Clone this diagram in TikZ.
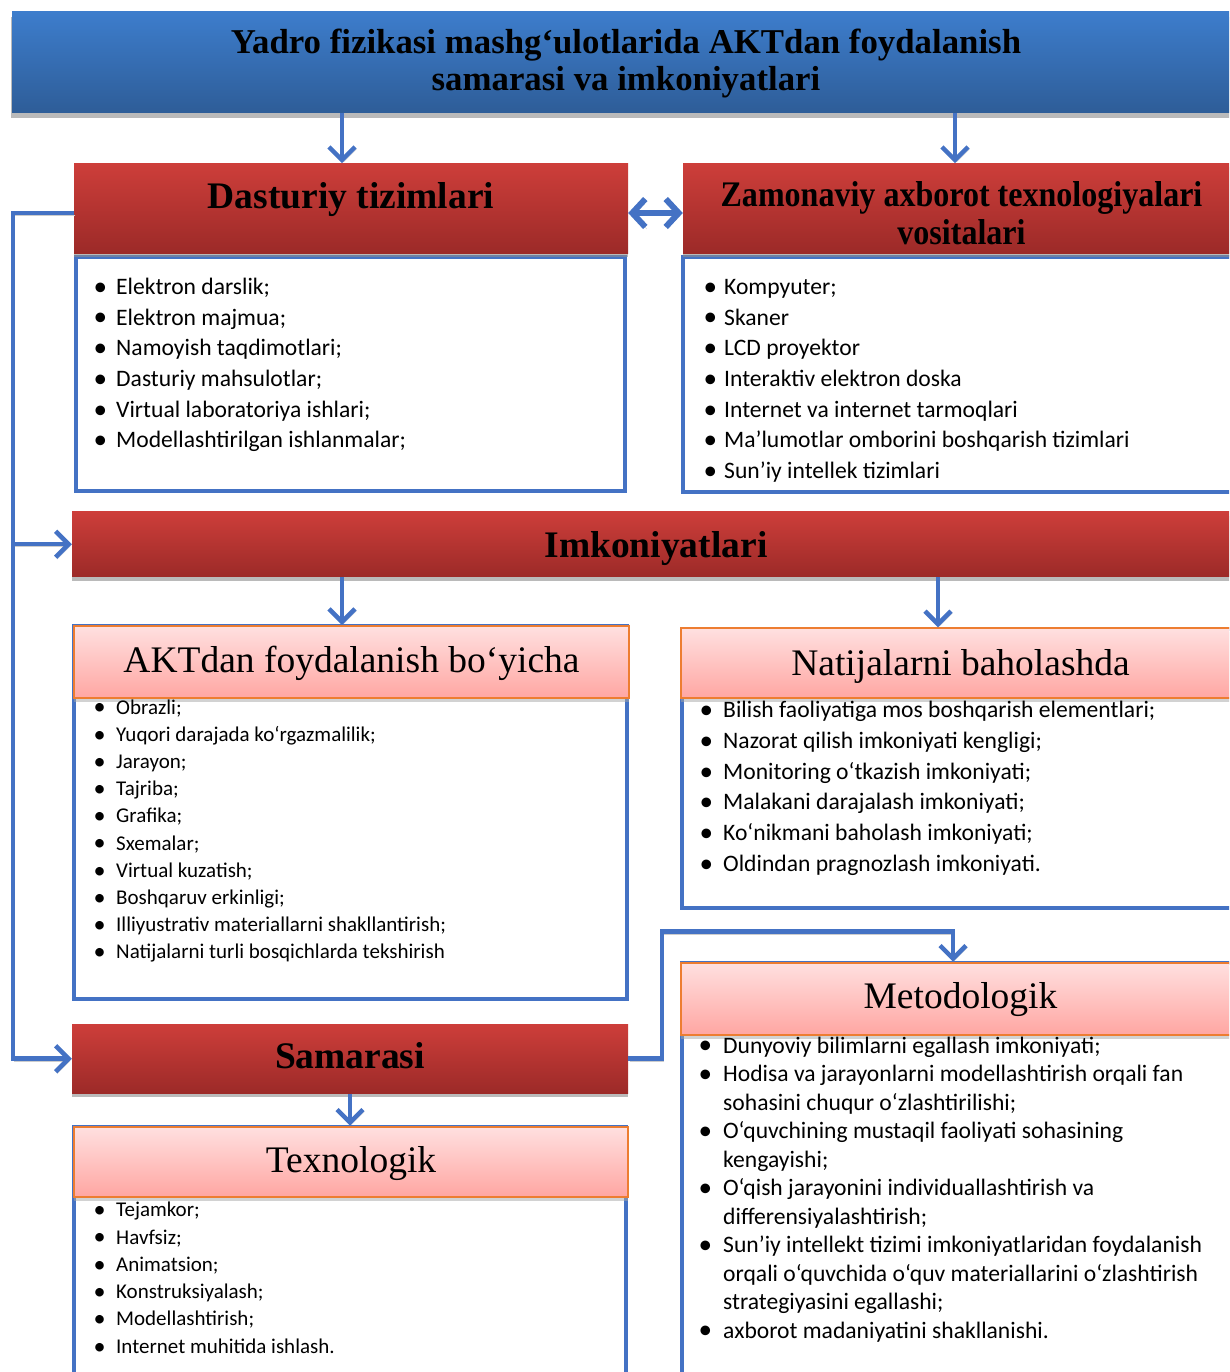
\documentclass[tikz,border=0pt]{standalone}
\usepackage{graphicx}
\usepackage{fontspec}
\setmainfont{Liberation Serif}
\newfontfamily\carl{Carlito}
\usetikzlibrary{arrows.meta,shadows,calc}
\definecolor{lineblue}{RGB}{68,114,196}
\definecolor{bantop}{RGB}{61,125,204}
\definecolor{banbot}{RGB}{46,93,152}
\definecolor{redtop}{RGB}{205,62,58}
\definecolor{redbot}{RGB}{156,42,40}
\definecolor{pinktop}{RGB}{255,224,224}
\definecolor{pinkbot}{RGB}{255,166,162}
\definecolor{orangeb}{RGB}{237,125,49}
\newcommand{\bul}{\raisebox{-0.9pt}{\scalebox{1.15}{•}}}
\begin{document}
\begin{tikzpicture}[x=1pt,y=-1pt,
 banner/.style={rectangle, inner sep=0pt, top color=bantop, bottom color=banbot,
   drop shadow={shadow xshift=-1pt, shadow yshift=-5pt, fill=black!45, opacity=0.6}},
 redhead/.style={rectangle, inner sep=0pt, top color=redtop, bottom color=redbot,
   drop shadow={shadow xshift=0pt, shadow yshift=-4pt, fill=black!45, opacity=0.6},
   font=\fontsize{37.5}{40}\selectfont\bfseries},
 pinkhead/.style={rectangle, inner sep=0pt, draw=orangeb, line width=2pt,
   top color=pinktop, bottom color=pinkbot,
   drop shadow={shadow xshift=0pt, shadow yshift=-4pt, fill=black!35, opacity=0.5},
   font=\fontsize{37.5}{40}\selectfont},
 listbox/.style={rectangle, inner sep=0pt, draw=lineblue, line width=4pt, fill=white},
 bl/.style={text height=#1, text depth=0pt},
 itemA/.style={anchor=base west, inner sep=0pt, font=\carl\fontsize{23.6}{28}\selectfont},
 itemB/.style={anchor=base west, inner sep=0pt, font=\carl\fontsize{21}{24}\selectfont},
 conn/.style={draw=lineblue, line width=4.5pt,
   preaction={draw=black!20, transform canvas={xshift=1.5pt,yshift=-2pt}}},
 arr/.style={-{Straight Barb[length=13pt,width=26pt]}},
 dbl/.style={{Straight Barb[length=13pt,width=28pt]}-{Straight Barb[length=13pt,width=28pt]}, line width=6pt, draw=lineblue,
   preaction={draw=black!20, transform canvas={xshift=1.5pt,yshift=-2pt}}},
]
\useasboundingbox (0,0) rectangle (1229,1372);
\clip (0,0) rectangle (1229,1372);

% list boxes
\node[listbox, minimum width=549pt, minimum height=234pt] (dastL) at (350.5,374) {};
\node[listbox, minimum width=559pt, minimum height=235pt] (zamL) at (962.5,374.5) {};
\node[listbox, minimum width=553pt, minimum height=373pt] (aktL) at (350.5,812.5) {};
\node[listbox, minimum width=560pt, minimum height=279pt] (natL) at (962,768.5) {};
\node[listbox, minimum width=552pt, minimum height=273pt] (texL) at (350,1263.5) {};
\node[listbox, minimum width=560pt, minimum height=437pt] (metL) at (962,1181.5) {};

% headers
\node[banner, minimum width=1228pt, minimum height=101pt, text height=0pt, text depth=16.4pt] (top) at (626,62.2)
 {\fontsize{34.8}{37}\selectfont\bfseries\begin{tabular}[t]{@{}c@{}}Yadro fizikasi mashg‘ulotlarida AKTdan foydalanish\\ samarasi va imkoniyatlari\end{tabular}};
\node[redhead, minimum width=554pt, minimum height=89.7pt, bl=0.2pt] (dast) at (351,208.2) {Dasturiy tizimlari};
\node[redhead, minimum width=557pt, minimum height=89.7pt, text height=0pt, text depth=3pt] (zam) at (961.5,208.2)
 {\fontsize{36}{37.5}\selectfont\begin{tabular}[t]{@{}c@{}}\scalebox{0.89}[1]{Zamonaviy axborot texnologiyalari}\\ \scalebox{0.89}[1]{vositalari}\end{tabular}};
\node[redhead, minimum width=1168pt, minimum height=65pt, bl=26.2pt] (imk) at (656,544.2) {Imkoniyatlari};
\node[pinkhead, minimum width=555pt, minimum height=72.3pt, bl=19.6pt] (akt) at (351.5,662.2) {AKTdan foydalanish bo‘yicha};
\node[pinkhead, minimum width=559pt, minimum height=70pt, bl=23.4pt] (nat) at (960.5,663.3) {Natijalarni baholashda};
\node[redhead, minimum width=556pt, minimum height=69.3pt, bl=19.2pt] (sam) at (350,1058.7) {Samarasi};
\node[pinkhead, minimum width=554pt, minimum height=70pt, bl=22pt] (tex) at (351,1161.7) {Texnologik};
\node[pinkhead, minimum width=559pt, minimum height=72.3pt, bl=18.8pt] (met) at (960.5,998.9) {Metodologik};

% list items
\foreach \t [count=\i] in {Elektron darslik;, Elektron majmua;, Namoyish taqdimotlari;, Dasturiy mahsulotlar;, Virtual laboratoriya ishlari;, Modellashtirilgan ishlanmalar;}
  \node[itemA] (dl\i) at (93.5,{294.3+30.7*(\i-1)}) {\makebox[22.5pt][l]{\bul}\t};
\foreach \t [count=\i] in {Kompyuter;, Skaner, LCD proyektor, Interaktiv elektron doska, Internet va internet tarmoqlari, Ma’lumotlar omborini boshqarish tizimlari, Sun’iy intellek tizimlari}
  \node[itemA] (zl\i) at (703.5,{294.3+30.7*(\i-1)}) {\makebox[20.5pt][l]{\bul}\t};
\foreach \t [count=\i] in {Obrazli;, Yuqori darajada ko‘rgazmalilik;, Jarayon;, Tajriba;, Grafika;, Sxemalar;, Virtual kuzatish;, Boshqaruv erkinligi;, Illiyustrativ materiallarni shakllantirish;, Natijalarni turli bosqichlarda tekshirish}
  \node[itemB] (al\i) at (93.4,{714+27.2*(\i-1)}) {\makebox[22.6pt][l]{\bul}\t};
\foreach \t [count=\i] in {Bilish faoliyatiga mos boshqarish elementlari;, Nazorat qilish imkoniyati kengligi;, Monitoring o‘tkazish imkoniyati;, Malakani darajalash imkoniyati;, Ko‘nikmani baholash imkoniyati;, Oldindan pragnozlash imkoniyati.}
  \node[itemA] (nl\i) at (699.5,{717.7+30.7*(\i-1)}) {\makebox[23.5pt][l]{\bul}\t};
\foreach \t [count=\i] in {Tejamkor;, Havfsiz;, Animatsion;, Konstruksiyalash;, Modellashtirish;, Internet muhitida ishlash.}
  \node[itemB] (tl\i) at (93.4,{1216.7+27.3*(\i-1)}) {\makebox[22.6pt][l]{\bul}\t};
\foreach \b/\t [count=\i] in {1/Dunyoviy bilimlarni egallash imkoniyati;, 1/Hodisa va jarayonlarni modellashtirish orqali fan, 0/sohasini chuqur o‘zlashtirilishi;, 1/O‘quvchining mustaqil faoliyati sohasining, 0/kengayishi;, 1/O‘qish jarayonini individuallashtirish va, 0/differensiyalashtirish;, 1/Sun’iy intellekt tizimi imkoniyatlaridan foydalanish, 0/orqali o‘quvchida o‘quv materiallarini o‘zlashtirish, 0/strategiyasini egallashi;, 1/axborot madaniyatini shakllanishi.}
  \node[itemA] (ml\i) at (698.5,{1053+28.5*(\i-1)}) {\makebox[24.5pt][l]{\ifnum\b=1 \bul\fi}\t};

% helper coordinates
\coordinate (c1) at (342,0);
\coordinate (c2) at (955,0);
\coordinate (c3) at (938,0);
\coordinate (L) at (13,213);
\coordinate (D) at (0,213);
\coordinate (R) at (662,931.7);
\coordinate (mc) at (953,0);

% connectors
\draw[conn,arr] (top.south -| c1) -- (dast.north -| c1);
\draw[conn,arr] (top.south -| c2) -- (zam.north -| c2);
\draw[dbl] (dast.east |- D) -- (zam.west |- D);
\draw[conn,arr] (dast.west |- L) -- (L) -- (L |- sam.west) -- (sam.west);
\draw[conn,arr] (L |- imk.west) -- (imk.west);
\draw[conn,arr] (imk.south -| c1) -- (akt.north -| c1);
\draw[conn,arr] (imk.south -| c3) -- (nat.north -| c3);
\draw[conn,arr] (sam.south) -- (sam.south |- tex.north);
\draw[conn,arr] (sam.east) -| (R) -| (mc |- met.north);
\end{tikzpicture}
\end{document}
